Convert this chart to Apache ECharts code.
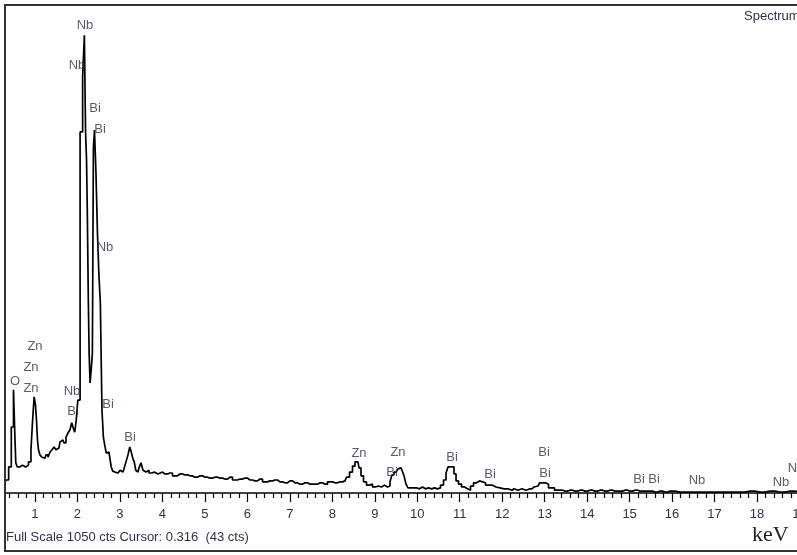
<!DOCTYPE html>
<html>
<head>
<meta charset="utf-8">
<script src="https://cdn.jsdelivr.net/npm/echarts@6/dist/echarts.min.js"></script>
<style>
  html, body { margin: 0; padding: 0; background: #fff; }
  #chart { width: 797px; height: 555px; }
</style>
</head>
<body>
<div id="chart"></div>
<script>
// EDS spectrum: energy channels (keV) and counts
const energyKeV = [
  0.29, 0.35, 0.41, 0.475, 0.513, 0.536, 0.56, 0.607, 0.67, 0.741, 0.812, 0.882, 0.929, 0.96, 1.0, 1.024,
  1.047, 1.071, 1.094, 1.141, 1.188, 1.235, 1.283, 1.33, 1.377, 1.424, 1.471, 1.518, 1.565, 1.612, 1.659,
  1.707, 1.754, 1.80, 1.848, 1.883, 1.918, 1.954, 1.989, 2.029, 2.095, 2.149, 2.177, 2.206, 2.222, 2.246,
  2.264, 2.286, 2.309, 2.337, 2.366, 2.385, 2.417, 2.455, 2.488, 2.519, 2.559, 2.596, 2.625, 2.66, 2.695,
  2.742, 2.777, 2.813, 2.848, 2.884, 2.931, 2.978, 3.025, 3.072, 3.119, 3.166, 3.213, 3.249, 3.284, 3.319,
  3.355, 3.39, 3.426, 3.472, 3.52, 3.566, 3.614, 3.661, 3.708, 3.778, 3.849,
  3.943, 4.061, 4.179, 4.296, 4.414, 4.532, 4.650, 4.767, 4.885, 5.003, 5.121, 5.238, 5.356, 5.474, 5.591,
  5.709, 5.827, 5.945, 6.062, 6.180, 6.298, 6.416, 6.533, 6.651, 6.769, 6.886, 7.004, 7.122, 7.240, 7.357,
  7.475, 7.593, 7.711, 7.828, 7.946, 8.064, 8.181, 8.299, 8.370, 8.441, 8.511, 8.558, 8.605, 8.652, 8.700,
  8.770, 8.841, 8.911, 8.982, 9.053, 9.123, 9.194, 9.265, 9.335, 9.382, 9.429, 9.477, 9.524, 9.571, 9.618,
  9.665, 9.712, 9.759, 9.806, 9.877, 9.948, 10.018, 10.089, 10.159, 10.230, 10.301, 10.371, 10.442, 10.513,
  10.583, 10.654, 10.701, 10.748, 10.795, 10.842, 10.890, 10.937, 11.007, 11.078, 11.148, 11.219, 11.290,
  11.360, 11.431, 11.502, 11.572, 11.643, 11.714, 11.808, 11.902, 11.996, 12.090, 12.184, 12.279, 12.373,
  12.467, 12.561, 12.655, 12.750, 12.844, 12.914, 12.985, 13.056, 13.126, 13.197, 13.268, 13.362, 13.480,
  13.597, 13.715, 13.833, 13.950, 14.068, 14.186, 14.304, 14.421, 14.539, 14.657, 14.774, 14.892, 15.010,
  15.128, 15.245, 15.363, 15.481, 15.599, 15.716, 15.834, 15.952, 16.187, 16.423, 16.658, 16.894, 17.129,
  17.364, 17.600, 17.835, 18.071, 18.306, 18.542, 18.777, 19.013, 19.2
];
const counts = [
  22, 28, 56, 142, 222, 129, 65, 56, 60, 56, 60, 67, 93, 157, 207, 189,
  157, 114, 93, 82, 77, 75, 82, 77, 88, 93, 99, 93, 97, 110, 114,
  108, 120, 129, 136, 151, 140, 131, 157, 200, 777, 895, 985, 775, 716, 594,
  422, 301, 237, 265, 301, 744, 781, 688, 559, 473, 409, 179, 120, 103, 86,
  88, 77, 56, 47, 45, 43, 45, 49, 45, 52, 67, 82, 99, 88, 75,
  67, 49, 45, 54, 65, 49, 45, 49, 43, 45, 41,
  45, 41, 43, 37, 41, 39, 37, 34, 37, 34, 32, 34, 32, 30, 34,
  28, 30, 32, 28, 26, 30, 24, 26, 28, 24, 22, 26, 22, 19, 22,
  19, 19, 22, 19, 24, 22, 24, 26, 34, 45, 58, 67, 67, 54, 37,
  24, 17, 19, 13, 15, 13, 17, 13, 15, 24, 39, 45, 47, 52, 54,
  49, 37, 19, 11, 11, 11, 9, 13, 9, 11, 9, 11, 9, 11,
  17, 28, 43, 56, 56, 56, 41, 26, 19, 13, 9, 6, 15,
  22, 26, 24, 22, 17, 17, 13, 11, 9, 9, 6, 9, 6,
  9, 6, 9, 13, 15, 22, 22, 19, 11, 11, 6, 6, 4,
  6, 4, 6, 4, 6, 4, 6, 4, 6, 4, 4, 6, 4,
  6, 4, 4, 4, 2, 4, 2, 4, 2, 2, 2, 2, 2,
  2, 2, 4, 2, 4, 2, 4, 2, 2
];

// Element markers: name, energy (keV), height (counts)
const peakNames = ['Nb', 'Nb', 'Bi', 'Bi', 'Nb', 'O', 'Zn', 'Zn', 'Zn', 'Nb', 'Bi', 'Bi', 'Bi',
  'Zn', 'Zn', 'Bi', 'Bi', 'Bi', 'Bi', 'Bi', 'Bi', 'Bi', 'Nb', 'Nb', 'Nb'];
const peakKeV = [2.177, 1.989, 2.413, 2.531, 2.648, 0.529, 1.0, 0.906, 0.906, 1.871, 1.895, 2.719, 3.237,
  8.629, 9.547, 9.406, 10.819, 11.713, 12.985, 13.008, 15.222, 15.575, 16.587, 18.565, 18.918];
const peakCts = [1007, 919, 828, 783, 529, 241, 316, 271, 226, 219, 176, 191, 120,
  86, 88, 45, 77, 41, 88, 43, 30, 30, 26, 22, 52];

// Axis range and ticks (keV)
const axisMinKeV = 0;
const axisMaxKeV = 19.2;
const majorStepKeV = 1;
const fullScaleCts = 1050;

const footerText = 'Full Scale 1050 cts Cursor: 0.316  (43 cts)';
const spectrumTitle = 'Spectrum';
const unitText = 'keV';

const sans = "'Liberation Sans', Arial, sans-serif";
const textColor = '#30304e';

const spectrumData = energyKeV.map((e, i) => [e, counts[i]]);
const markerData = peakNames.map((n, i) => ({ name: n, value: [peakKeV[i], peakCts[i]] }));

const chart = echarts.init(document.getElementById('chart'), null, { renderer: 'canvas' });
chart.setOption({
  animation: false,
  backgroundColor: '#ffffff',
  grid: {
    left: -7.5, right: -11, top: 5, bottom: 62,
    containLabel: false, outerBoundsMode: 'none'
  },
  xAxis: {
    type: 'value',
    min: axisMinKeV, max: axisMaxKeV, interval: majorStepKeV,
    axisLine: { show: true, lineStyle: { color: '#000', width: 1.5 } },
    axisTick: { show: true, length: 9, lineStyle: { color: '#000', width: 1.2 } },
    minorTick: { show: true, splitNumber: 5, length: 5, lineStyle: { color: '#000', width: 1.2 } },
    splitLine: { show: false },
    minorSplitLine: { show: false },
    axisLabel: {
      show: true, margin: 15, color: textColor, fontSize: 13, fontFamily: sans,
      showMinLabel: false, showMaxLabel: false
    }
  },
  yAxis: {
    type: 'value', min: 0, max: fullScaleCts, show: false,
    splitLine: { show: false }
  },
  series: [
    {
      name: 'spectrum',
      type: 'line',
      data: spectrumData,
      step: 'middle',
      showSymbol: false,
      symbol: 'none',
      lineStyle: { color: '#000', width: 1.7 },
      z: 3
    },
    {
      name: 'markers',
      type: 'scatter',
      data: markerData,
      symbolSize: 0,
      clip: false,
      label: {
        show: true, position: 'inside', formatter: '{b}',
        color: textColor, fontSize: 13, fontFamily: sans
      },
      z: 4
    }
  ],
  graphic: [
    // mask anything left of the frame
    { type: 'rect', z: 90, shape: { x: 0, y: 0, width: 4, height: 555 }, style: { fill: '#fff' } },
    // outer frame
    { type: 'rect', z: 100, shape: { x: 5, y: 5, width: 830, height: 546 },
      style: { fill: 'none', stroke: '#333', lineWidth: 2 } },
    { type: 'text', z: 100, x: 744, y: 10,
      style: { text: spectrumTitle, fill: textColor, font: "13px 'Liberation Sans', Arial, sans-serif" } },
    { type: 'text', z: 100, x: 6, y: 531,
      style: { text: footerText, fill: textColor, font: "13px 'Liberation Sans', Arial, sans-serif" } },
    { type: 'text', z: 100, x: 752, y: 524,
      style: { text: unitText, fill: '#222', font: "22px 'Liberation Serif', 'Times New Roman', serif" } }
  ]
});
</script>
</body>
</html>
